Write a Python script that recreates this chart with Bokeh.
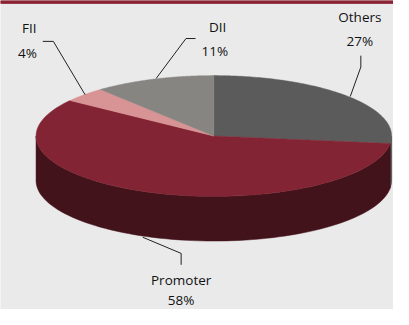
import numpy as np
from bokeh.plotting import figure
from bokeh.models import Range1d, ColumnDataSource
from bokeh.core.properties import value
from bokeh.embed import file_html
from bokeh.resources import INLINE

# ---- data ----
categories = ["Others", "Promoter", "FII", "DII"]
shares = [27, 58, 4, 11]
pct_labels = ["27%", "58%", "4%", "11%"]
top_colors = ["#5B5B5B", "#822433", "#D89494", "#868581"]
side_colors = ["#3D3D3D", "#42131A", "#8E5E5E", "#575653"]

# ---- layout (reference pixel space) ----
W, H = 409, 325
cx, cy, rx, ry, depth = 222.0, 142.5, 185.0, 63.5, 47.0
label_pos = {"Others": (374, 17), "Promoter": (188, 294), "FII": (30, 29), "DII": (226, 28)}
pct_pos = {"Others": (374, 43), "Promoter": (188, 315), "FII": (28, 55), "DII": (223, 53)}
leaders = {
    "Others": ([375, 375, 364], [58, 70, 101]),
    "Promoter": ([148, 188, 188], [249, 266, 278]),
    "FII": ([44, 55, 88], [43, 43, 99]),
    "DII": ([203, 193, 162], [40, 40, 82]),
}

p = figure(width=393, height=309, output_backend="svg", toolbar_location=None,
           x_range=Range1d(0, W), y_range=Range1d(H, 0), min_border=0)
p.axis.visible = False
p.grid.visible = False
p.outline_line_color = None
p.background_fill_color = "#EAEAEA"
p.border_fill_color = "#EAEAEA"

# top band
p.quad(left=0, right=W, top=0, bottom=3, color="#8B2535")

def pt(theta_deg):
    t = np.radians(theta_deg)
    return cx + rx * np.cos(t), cy - ry * np.sin(t)

total = float(sum(shares))
angles = []
a = 90.0
for s in shares:
    b = a - 360.0 * s / total
    angles.append((a, b))
    a = b

# sides (front half: theta in [-180, 0])
sx, sy, sc = [], [], []
for (a0, a1), col in zip(angles, side_colors):
    lo, hi = max(a1, -180.0), min(a0, 0.0)
    if hi <= lo:
        continue
    th = np.linspace(hi, lo, 80)
    x, y = pt(th)
    xs = np.concatenate([x, x[::-1]])
    ys = np.concatenate([y, (y + depth)[::-1]])
    sx.append(list(xs)); sy.append(list(ys)); sc.append(col)
p.patches(xs=sx, ys=sy, fill_color=sc, line_color=sc, line_width=0.5)

# tops
tx, ty = [], []
for (a0, a1) in angles:
    th = np.linspace(a0, a1, 120)
    x, y = pt(th)
    tx.append([cx] + list(x)); ty.append([cy] + list(y))
p.patches(xs=tx, ys=ty, fill_color=top_colors, line_color=top_colors, line_width=0.5)

# leader lines
for c in categories:
    lx, ly = leaders[c]
    p.line(lx, ly, line_color="#222222", line_width=1)

# labels
src = ColumnDataSource(dict(
    x=[label_pos[c][0] for c in categories] + [pct_pos[c][0] for c in categories],
    y=[label_pos[c][1] for c in categories] + [pct_pos[c][1] for c in categories],
    t=categories + pct_labels,
))
p.text(x="x", y="y", text="t", source=src, text_align="center", text_baseline="middle",
       text_font=value("Open Sans"), text_font_size="13.5px", text_color="#111111")

open("out.html", "w").write(file_html(p, INLINE))
